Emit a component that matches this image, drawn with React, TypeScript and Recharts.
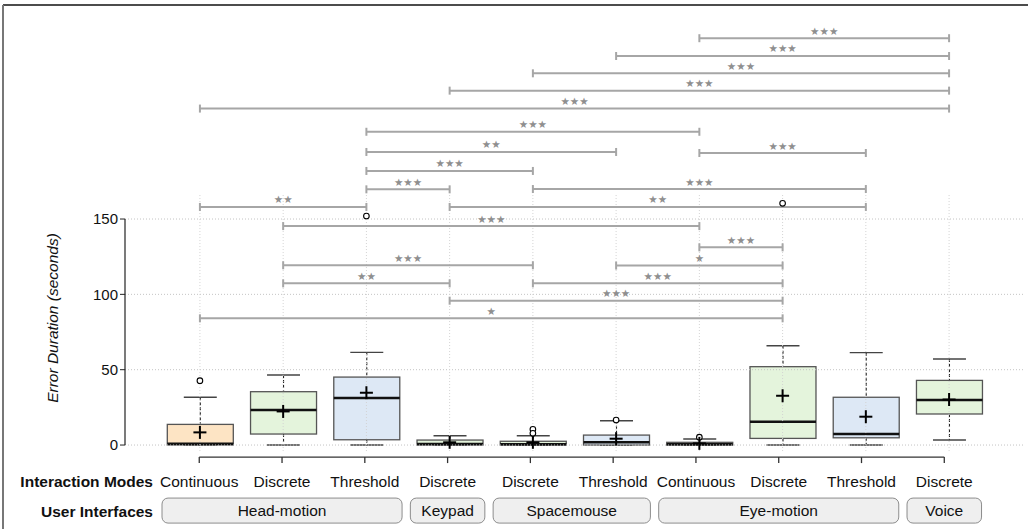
import React from 'react';
import {
  ComposedChart,
  Bar,
  Scatter,
  XAxis,
  YAxis,
  ReferenceLine,
  ReferenceArea,
  Customized,
} from 'recharts';

// box plot stats per group (seconds)
const MODES = ['Continuous', 'Discrete', 'Threshold', 'Discrete', 'Discrete', 'Threshold', 'Continuous', 'Discrete', 'Threshold', 'Discrete'];
const WHISKER_LO = [0, 0, 0, 0, 0, 0, 0, 0, 0, 3.3];
const Q1 = [0, 7.3, 3.5, 0, 0, 0, 0, 4.4, 4.8, 20.6];
const MEDIAN = [0.9, 23.2, 31.2, 0.7, 0.5, 1.8, 0.5, 15.5, 7.3, 29.9];
const Q3 = [13.7, 35.4, 45.1, 3.3, 2.5, 6.6, 1.8, 52, 31.7, 42.9];
const WHISKER_HI = [31.7, 46.5, 61.5, 6.2, 6.2, 16.1, 4, 65.9, 61.3, 57.1];
const MEANS = [8.4, 22.3, 34.7, 1.8, 1.8, 4.2, 1.1, 32.7, 18.8, 30.2];
const OUTLIERS = [[42.7], [], [152], [], [10.4, 7.8], [16.6], [5.2], [160.4], [], []];

// user interface groups
const INTERFACES = ['Head-motion', 'Keypad', 'Spacemouse', 'Eye-motion', 'Voice'];
const IF_FIRST = [1, 4, 5, 7, 10];
const IF_LAST = [3, 4, 6, 9, 10];

// significance brackets
const BR_FROM = [7, 6, 5, 4, 1, 3, 3, 7, 3, 3, 5, 1, 4, 2, 7, 2, 6, 2, 5, 4, 1];
const BR_TO = [10, 10, 10, 10, 10, 7, 6, 9, 5, 4, 9, 3, 9, 7, 8, 5, 8, 4, 8, 8, 8];
const BR_Y = [270, 258.2, 246.7, 235.2, 223.3, 207.9, 194.5, 193.8, 181.9, 169.7, 169.9, 158, 158, 145.3, 131.2, 119.3, 119.1, 107.3, 107.3, 95.8, 84.1];
const BR_STARS = [3, 3, 3, 3, 3, 3, 2, 3, 3, 3, 3, 2, 2, 3, 3, 3, 1, 2, 3, 3, 1];

const Y_TICKS = [0, 50, 100, 150];
const AXIS_Y = -8;

const MODE_FILL: Record<string, string> = {
  Continuous: '#fde4c4',
  Discrete: '#e4f4dc',
  Threshold: '#dde8f5',
};

const FONT = '"Liberation Sans", Arial, Helvetica, sans-serif';

const boxData = MODES.map((m, i) => ({
  x: i + 1,
  range: [WHISKER_LO[i], WHISKER_HI[i]],
  lo: WHISKER_LO[i],
  q1: Q1[i],
  med: MEDIAN[i],
  q3: Q3[i],
  hi: WHISKER_HI[i],
  mode: m,
}));

const meanData = MEANS.map((v, i) => ({ x: i + 1, y: v }));
const outlierData = OUTLIERS.flatMap((list, i) => list.map((v) => ({ x: i + 1, y: v })));
const modeData = MODES.map((m, i) => ({ x: i + 1, y: AXIS_Y, label: m }));

const BoxShape = (props: any) => {
  const { x, y, width, height, payload } = props;
  const { lo, q1, med, q3, hi, mode } = payload;
  const k = height / (hi - lo);
  const py = (v: number) => y + (hi - v) * k;
  const cx = x + width / 2;
  const cap = width / 4;
  return (
    <g>
      <line x1={cx} x2={cx} y1={py(hi)} y2={py(q3)} stroke="#222" strokeWidth={1.1} strokeDasharray="3 2" />
      <line x1={cx} x2={cx} y1={py(q1)} y2={py(lo)} stroke="#222" strokeWidth={1.1} strokeDasharray="3 2" />
      <line x1={cx - cap} x2={cx + cap} y1={py(hi)} y2={py(hi)} stroke="#444" strokeWidth={1.4} />
      <line x1={cx - cap} x2={cx + cap} y1={py(lo)} y2={py(lo)} stroke="#444" strokeWidth={1.4} />
      <rect x={x} y={py(q3)} width={width} height={Math.max(py(q1) - py(q3), 0.5)} fill={MODE_FILL[mode]} stroke="#555" strokeWidth={1.3} />
      <line x1={x} x2={x + width} y1={py(med)} y2={py(med)} stroke="#111" strokeWidth={2.6} />
    </g>
  );
};

const PlusShape = (props: any) => {
  const { cx, cy } = props;
  return (
    <g>
      <line x1={cx - 6.5} x2={cx + 6.5} y1={cy} y2={cy} stroke="#000" strokeWidth={2} />
      <line x1={cx} x2={cx} y1={cy - 6.5} y2={cy + 6.5} stroke="#000" strokeWidth={2} />
    </g>
  );
};

const OutlierShape = (props: any) => (
  <circle cx={props.cx} cy={props.cy} r={2.8} fill="#fff" stroke="#000" strokeWidth={1.1} />
);

const ModeLabel = (props: any) => {
  const { cx, cy, payload } = props;
  return (
    <g>
      <line x1={cx} x2={cx} y1={cy} y2={cy + 6} stroke="#333" strokeWidth={1.3} />
      <text x={cx} y={cy + 30} textAnchor="middle" fontSize={15.5} fontFamily={FONT} fill="#111">
        {payload.label}
      </text>
    </g>
  );
};

const bracketShape = (stars: number) => (p: any) => {
  const { x1, y1, x2 } = p;
  return (
    <g>
      <line x1={x1} x2={x2} y1={y1} y2={y1} stroke="#a6a6a6" strokeWidth={2} />
      <line x1={x1} x2={x1} y1={y1 - 4} y2={y1 + 4} stroke="#a6a6a6" strokeWidth={2} />
      <line x1={x2} x2={x2} y1={y1 - 4} y2={y1 + 4} stroke="#a6a6a6" strokeWidth={2} />
      <text x={(x1 + x2) / 2} y={y1 - 3.5} textAnchor="middle" fontSize={10.5} fontFamily='"DejaVu Sans", sans-serif' fill="#8f8f8f" letterSpacing={0}>
        {'★'.repeat(stars)}
      </text>
    </g>
  );
};

const interfaceShape = (name: string) => (p: any) => {
  const { x, y, width, height } = p;
  return (
    <g>
      <rect x={x} y={y} width={width} height={height} rx={6} ry={6} fill="#efefef" stroke="#8c8c8c" strokeWidth={1} />
      <text x={x + width / 2} y={y + height / 2 + 5.5} textAnchor="middle" fontSize={15.5} fontFamily={FONT} fill="#111">
        {name}
      </text>
    </g>
  );
};

const Annotations = () => (
  <g>
    <line x1={3} x2={1028} y1={5} y2={5} stroke="#111" strokeWidth={1.6} />
    <line x1={3} x2={3} y1={5} y2={529} stroke="#777" strokeWidth={2} />
    <text x={52} y={318} transform="rotate(-90 52 318)" textAnchor="middle" dominantBaseline="central" fontSize={15.5} fontStyle="italic" fontFamily={FONT} fill="#111">
      Error Duration (seconds)
    </text>
    <text x={153} y={487} textAnchor="end" fontSize={15.5} fontWeight="bold" fontFamily={FONT} fill="#111">
      Interaction Modes
    </text>
    <text x={153} y={517} textAnchor="end" fontSize={15.5} fontWeight="bold" fontFamily={FONT} fill="#111">
      User Interfaces
    </text>
  </g>
);

export default function App() {
  return (
    <div style={{ position: 'absolute', left: 0, top: 0, background: '#fff' }}>
      <ComposedChart width={1028} height={529} data={boxData} margin={{ top: 15, right: 4, bottom: 2, left: 0 }}>
        <XAxis xAxisId="main" dataKey="x" type="number" domain={[0.1, 10.9]} ticks={[1, 2, 3, 4, 5, 6, 7, 8, 9, 10]} allowDataOverflow hide />
        <XAxis xAxisId="bottom" dataKey="x" type="number" domain={[0.103, 10.963]} allowDataOverflow hide />
        <YAxis
          dataKey="y"
          type="number"
          domain={[-54.4, 285.4]}
          allowDataOverflow
          ticks={Y_TICKS}
          width={125}
          axisLine={false}
          tickSize={5}
          tickLine={{ stroke: '#222' }}
          tick={{ fontSize: 15, fill: '#111', fontFamily: FONT }}
        />

        {/* dotted grid */}
        {Y_TICKS.map((v) => (
          <ReferenceLine key={`h${v}`} xAxisId="main" y={v} stroke="#c4c4c4" strokeDasharray="1 2" />
        ))}
        {MODES.map((_, i) => (
          <ReferenceLine
            key={`v${i}`}
            xAxisId="main"
            segment={[{ x: i + 1, y: -4 }, { x: i + 1, y: 167 }]}
            stroke="#d2d2d2"
            strokeDasharray="1 2"
          />
        ))}
        <ReferenceLine xAxisId="main" segment={[{ x: 0.1, y: 0 }, { x: 0.1, y: 150 }]} stroke="#222" strokeWidth={1.2} />

        <Bar xAxisId="main" dataKey="range" barSize={66} shape={BoxShape} isAnimationActive={false} />
        <Scatter xAxisId="main" data={outlierData} shape={OutlierShape} isAnimationActive={false} />
        <Scatter xAxisId="main" data={meanData} shape={PlusShape} isAnimationActive={false} />

        {BR_FROM.map((a, i) => (
          <ReferenceLine
            key={`b${i}`}
            xAxisId="main"
            segment={[{ x: a, y: BR_Y[i] }, { x: BR_TO[i], y: BR_Y[i] }]}
            shape={bracketShape(BR_STARS[i])}
          />
        ))}

        {/* bottom category rows */}
        <ReferenceLine xAxisId="bottom" segment={[{ x: 1, y: AXIS_Y }, { x: 10, y: AXIS_Y }]} stroke="#333" strokeWidth={1.3} />
        <Scatter xAxisId="bottom" data={modeData} shape={ModeLabel} isAnimationActive={false} />
        {INTERFACES.map((name, i) => (
          <ReferenceArea
            key={name}
            xAxisId="bottom"
            x1={IF_FIRST[i] - 0.45}
            x2={IF_LAST[i] + 0.45}
            y1={-51.8}
            y2={-35.2}
            shape={interfaceShape(name)}
          />
        ))}

        <Customized component={Annotations} />
      </ComposedChart>
    </div>
  );
}
